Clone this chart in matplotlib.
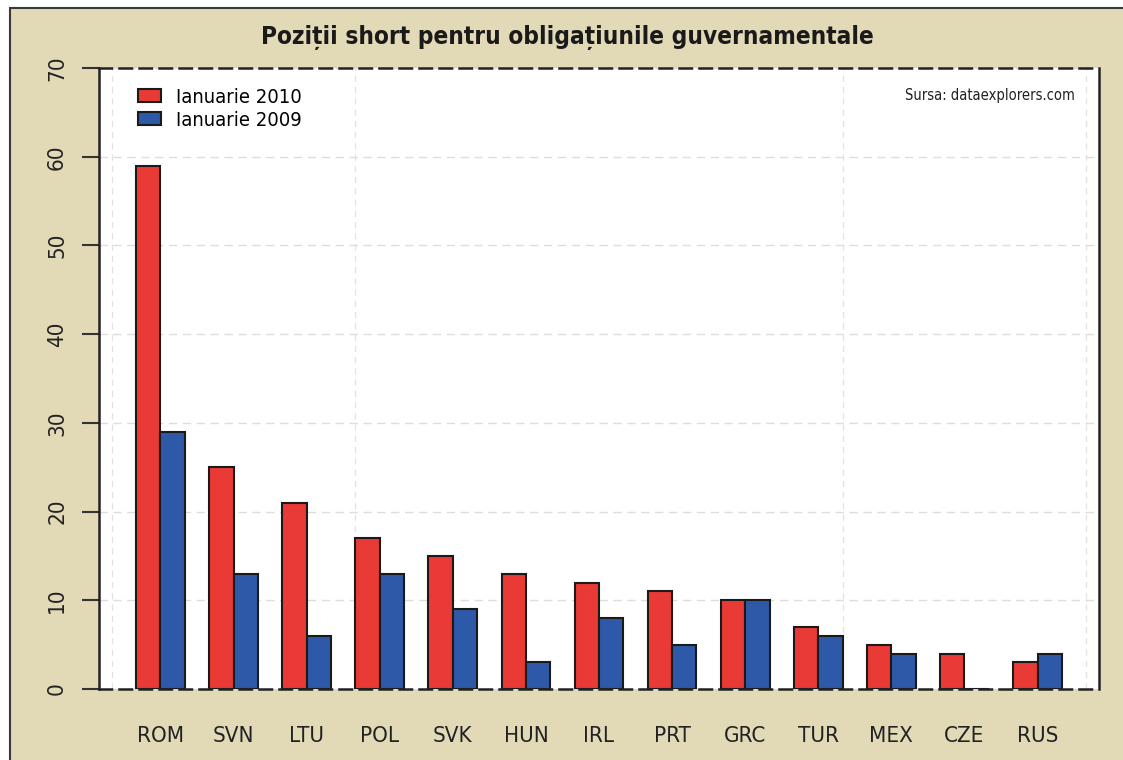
import matplotlib.pyplot as plt
import matplotlib.patches as mpatches
import numpy as np

# data
countries = ["ROM", "SVN", "LTU", "POL", "SVK", "HUN", "IRL", "PRT", "GRC", "TUR", "MEX", "CZE", "RUS"]
ian_2010 = [59, 25, 21, 17, 15, 13, 12, 11, 10, 7, 5, 4, 3]
ian_2009 = [29, 13, 6, 13, 9, 3, 8, 5, 10, 6, 4, 0, 4]

beige = "#e2d9b7"
red = "#e93a36"
blue = "#2e59a8"
plt.rcParams["font.family"] = ["DejaVu Sans"]
plt.rcParams["font.stretch"] = "condensed"

fig = plt.figure(figsize=(11.23, 7.6), dpi=100)
fig.patch.set_facecolor("white")
# beige panel with border, starting slightly inside the image
fig.patches.append(mpatches.Rectangle((10 / 1123, -0.05), 1.1, 1 - 8 / 760 + 0.05,
                                      transform=fig.transFigure, facecolor=beige,
                                      edgecolor="#3a3a3a", linewidth=1.5, zorder=-5))

ax = fig.add_axes([99 / 1123, 1 - 689 / 760, 1000 / 1123, 621 / 760])
ax.set_zorder(2)
ax.set_facecolor("white")

idx = np.arange(len(countries))
ax.bar(1 + 3 * idx, ian_2010, width=1, align="edge", color=red, edgecolor="#1a1a1a",
       linewidth=1.5, zorder=3, label="Ianuarie 2010")
ax.bar(2 + 3 * idx, ian_2009, width=1, align="edge", color=blue, edgecolor="#1a1a1a",
       linewidth=1.5, zorder=3, label="Ianuarie 2009")

ax.set_xlim(-0.52, 40.52)
ax.set_ylim(0, 70)

ax.set_xticks(2 + 3 * idx)
ax.set_xticklabels(countries, fontsize=16, color="#222222")
ax.tick_params(axis="x", length=0, pad=27)
ax.set_xticks([0, 10, 20, 30, 40], minor=True)
ax.tick_params(axis="x", which="minor", length=0)

ax.set_yticks(np.arange(0, 71, 10))
ax.set_yticklabels([str(v) for v in range(0, 71, 10)], rotation=90, va="center",
                   fontsize=16, color="#222222")
ax.tick_params(axis="y", length=12, width=1.5, color="#333333", pad=11)

ax.grid(axis="y", which="major", color="#dddddd", linestyle=(0, (6, 4)), linewidth=1, zorder=0)
ax.grid(axis="x", which="minor", color="#e2e2e2", linestyle=(0, (5, 4)), linewidth=0.9, zorder=0)
ax.grid(axis="x", which="major", visible=False)

for s in ["left", "right"]:
    ax.spines[s].set_color("#222222")
    ax.spines[s].set_linewidth(1.8)
for s in ["top", "bottom"]:
    ax.spines[s].set_color("#222222")
    ax.spines[s].set_linewidth(1.8)
    ax.spines[s].set_linestyle((0, (5, 3)))
    ax.spines[s].set_zorder(4)

ax.legend(loc="upper left", bbox_to_anchor=(0.039, 0.968), frameon=False,
          prop={"size": 14.5, "stretch": "condensed"},
          handlelength=1.15, handleheight=0.6, handletextpad=0.75, labelspacing=0.2,
          borderaxespad=0, borderpad=0)

ax.text(0.976, 0.955, "Sursa: dataexplorers.com", transform=ax.transAxes, ha="right",
        va="center", fontsize=10.5, color="#222222")

fig.text(567 / 1123, 1 - 38 / 760, "Poziții short pentru obligațiunile guvernamentale",
         ha="center", va="center", fontsize=17.5, fontweight="heavy", color="#1a1a1a")

fig.savefig("out.png", dpi=100, facecolor=fig.get_facecolor())
